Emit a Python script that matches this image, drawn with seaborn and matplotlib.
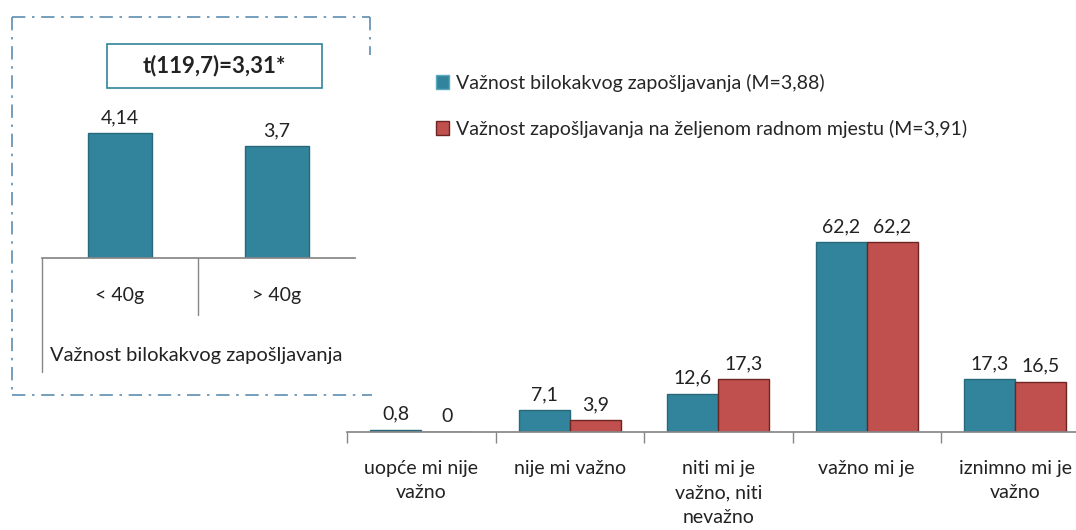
import matplotlib
matplotlib.use("Agg")
import matplotlib.pyplot as plt
import seaborn as sns
import pandas as pd
from matplotlib.lines import Line2D
from matplotlib.patches import Rectangle

# main chart data
categories = ["uopće mi nije\nvažno", "nije mi važno", "niti mi je\nvažno, niti\nnevažno",
              "važno mi je", "iznimno mi je\nvažno"]
any_job = [0.8, 7.1, 12.6, 62.2, 17.3]
wanted_job = [0, 3.9, 17.3, 62.2, 16.5]
series_names = ["Važnost bilokakvog zapošljavanja (M=3,88)",
                "Važnost zapošljavanja na željenom radnom mjestu (M=3,91)"]

# inset data
age_groups = ["< 40g", "> 40g"]
age_means = [4.14, 3.7]
age_labels = ["4,14", "3,7"]
t_text = "t(119,7)=3,31*"
inset_title = "Važnost bilokakvog zapošljavanja"

BLUE = "#31849B"
RED = "#C0504D"
W, H = 1076, 530

sns.set_theme(style="white")
plt.rcParams["font.family"] = ["Lato", "DejaVu Sans"]


def fx(x):
    return x / W


def fy(y):
    return 1 - y / H


fig = plt.figure(figsize=(W / 100, H / 100), dpi=100)

# ---- main grouped bar chart
df = pd.DataFrame({
    "cat": categories * 2,
    "val": any_job + wanted_job,
    "series": [series_names[0]] * 5 + [series_names[1]] * 5,
})
left, right, base, top = 347, 1076, 432, 150
ax = fig.add_axes([fx(left), fy(base), fx(right - left), (base - top) / H])
sns.barplot(data=df, x="cat", y="val", hue="series", order=categories,
            hue_order=series_names, palette=[BLUE, RED], width=0.69,
            saturation=1, ax=ax, legend=False)
for i, p in enumerate(ax.patches[:10]):
    p.set_edgecolor("#27697B" if i < 5 else "#6E2522")
    p.set_linewidth(1.0)
for cont in ax.containers:
    ax.bar_label(cont, labels=[f"{v:g}".replace(".", ",") for v in cont.datavalues],
                 padding=5, fontsize=14, color="#222222")
ax.set_xlim(-0.5, -0.5 + (right - left) / 148.5)
ax.set_ylim(0, (base - top) / 3.055)
ax.set_xlabel("")
ax.set_ylabel("")
ax.set_yticks([])
for s in ["top", "right", "left"]:
    ax.spines[s].set_visible(False)
ax.spines["bottom"].set_color("#868686")
ax.set_xticks(range(5))
ax.set_xticklabels(categories, fontsize=14, linespacing=1.55, color="#222222")
ax.set_xticks([-0.5, 0.5, 1.5, 2.5, 3.5], minor=True)
ax.tick_params(axis="x", which="major", length=0, pad=20)
ax.tick_params(axis="x", which="minor", length=8, color="#868686", direction="out", bottom=True)
ax.patch.set_alpha(0)

# legend
handles = [Rectangle((0, 0), 1, 1, fc=BLUE, ec="#5AA9BD"),
           Rectangle((0, 0), 1, 1, fc=RED, ec="#6B2422")]
fig.legend(handles, series_names, loc="upper left", bbox_to_anchor=(fx(428), fy(66)),
           frameon=False, fontsize=14, handlelength=0.7, handleheight=0.7,
           handletextpad=0.35, labelspacing=1.45, borderaxespad=0)

# ---- inset box with dash-dot border
bc = "#5E8CAE"
for xs, ys in [([12, 370], [17, 17]), ([12, 12], [17, 395]), ([12, 372], [395, 395]),
               ([370, 370], [17, 55])]:
    fig.add_artist(Line2D([fx(x) for x in xs], [fy(y) for y in ys], color=bc,
                          lw=1.2, ls=(0, (8, 4, 1.5, 4))))

iax = fig.add_axes([fx(42), fy(258), fx(313), (258 - 20) / H])
sns.barplot(x=age_groups, y=age_means, color=BLUE, width=0.41, ax=iax, saturation=1)
for p in iax.patches:
    p.set_edgecolor("#27697B")
    p.set_linewidth(1.0)
iax.bar_label(iax.containers[0], labels=age_labels, padding=5, fontsize=14, color="#222222")
iax.set_xlim(-0.5, 1.5)
iax.set_ylim(0, 238 / 30.2)
iax.set_yticks([])
iax.set_xticks([])
for s in ["top", "right", "left"]:
    iax.spines[s].set_visible(False)
iax.spines["bottom"].set_color("#868686")
iax.patch.set_alpha(0)
# category separators below the axis
fig.add_artist(Line2D([fx(42), fx(42)], [fy(258), fy(372)], color="#868686", lw=1))
fig.add_artist(Line2D([fx(198), fx(198)], [fy(258), fy(315)], color="#868686", lw=1))
for x, lab in zip([120, 277], age_groups):
    fig.text(fx(x), fy(296), lab, ha="center", va="center", fontsize=14, color="#222222")
fig.text(fx(196), fy(355), inset_title, ha="center", va="center", fontsize=14.5, color="#222222")

# t-test box
fig.add_artist(Rectangle((fx(107), fy(88)), fx(215), (88 - 44) / H,
                         transform=fig.transFigure, fill=False, ec="#31849B", lw=1.2))
fig.text(fx(214), fy(66), t_text, ha="center", va="center", fontsize=16,
         fontweight="bold", color="#222222")

fig.savefig("out.png", dpi=100)
